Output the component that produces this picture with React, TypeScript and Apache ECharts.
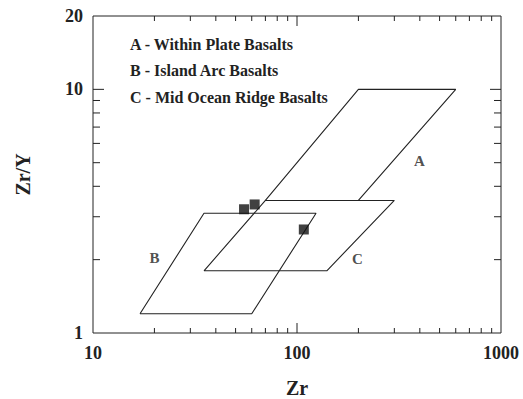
import React, { useEffect, useRef } from "react";
import * as echarts from "echarts";

// Axis ranges
const X_MIN = 10;
const X_MAX = 1000;
const Y_MIN = 1;
const Y_MAX = 20;

// Tick positions
const xMinorTicks = [20, 30, 40, 50, 60, 70, 80, 90, 200, 300, 400, 500, 600, 700, 800, 900];
const xMajorTicks = [100];
const yMinorTicks = [2, 3, 4, 5, 6, 7, 8, 9];
const yMajorTicks = [10];

// Discrimination fields (Zr, Zr/Y)
const fieldA = [[70, 3.5], [200, 10], [600, 10], [200, 3.5], [70, 3.5]];
const fieldB = [[17, 1.2], [35, 3.1], [124, 3.1], [60, 1.2], [17, 1.2]];
const fieldC = [[35, 1.8], [140, 1.8], [300, 3.5], [70, 3.5], [35, 1.8]];

// Field labels
const fieldLabels = [
  [398, 5.1, "A"],
  [20, 2.04, "B"],
  [198, 2.02, "C"],
];

// Samples
const samples = [[55, 3.22], [62, 3.37], [108, 2.66]];

// Legend texts
const legendLines = [
  "A - Within Plate Basalts",
  "B - Island Arc Basalts",
  "C - Mid Ocean Ridge Basalts",
];

const INK = "#222";
const FONT = "Liberation Serif";

export default function App() {
  const ref = useRef<HTMLDivElement>(null);

  useEffect(() => {
    if (!ref.current) return;
    const chart = echarts.init(ref.current, null, { renderer: "svg" });

    const X_MINOR_LEN = 5;
    const X_MAJOR_LEN = 10;
    const Y_MINOR_LEN = 7;
    const Y_MAJOR_LEN = 11;

    const xTickData = [
      ...xMinorTicks.map((v) => [v, Y_MIN, X_MINOR_LEN]),
      ...xMajorTicks.map((v) => [v, Y_MIN, X_MAJOR_LEN]),
    ];
    const yTickData = [
      ...yMinorTicks.map((v) => [X_MIN, v, Y_MINOR_LEN]),
      ...yMajorTicks.map((v) => [X_MIN, v, Y_MAJOR_LEN]),
    ];

    const lineStyle = { stroke: INK, lineWidth: 1 };

    const fieldSeries = (data: number[][]) => ({
      type: "line",
      data,
      symbol: "none",
      silent: true,
      lineStyle: { color: INK, width: 1.1 },
      z: 3,
    });

    chart.setOption({
      animation: false,
      backgroundColor: "#fff",
      textStyle: { fontFamily: FONT },
      grid: {
        left: 93,
        right: 22,
        top: 16,
        bottom: 66,
        containLabel: false,
        outerBoundsMode: "none",
        show: true,
        borderColor: INK,
        borderWidth: 1,
        backgroundColor: "transparent",
      },
      xAxis: {
        type: "log",
        logBase: 10,
        min: X_MIN,
        max: X_MAX,
        name: "Zr",
        nameLocation: "middle",
        nameGap: 45,
        nameTextStyle: { fontFamily: FONT, fontWeight: "bold", fontSize: 20, color: INK },
        axisLine: { show: false },
        axisTick: { show: false },
        splitLine: { show: false },
        minorTick: { show: false },
        axisLabel: {
          margin: 11,
          fontFamily: FONT,
          fontWeight: "bold",
          fontSize: 18,
          color: INK,
          formatter: (v: number) => String(Math.round(v)),
        },
      },
      yAxis: {
        type: "log",
        logBase: 10,
        min: Y_MIN,
        max: Y_MAX,
        name: "Zr/Y",
        nameLocation: "middle",
        nameGap: 60,
        nameRotate: 90,
        nameTextStyle: { fontFamily: FONT, fontWeight: "bold", fontSize: 20, color: INK },
        axisLine: { show: false },
        axisTick: { show: false },
        splitLine: { show: false },
        axisLabel: {
          margin: 10,
          fontFamily: FONT,
          fontWeight: "bold",
          fontSize: 18,
          color: INK,
          formatter: (v: number) => String(Math.round(v)),
        },
      },
      graphic: legendLines.map((t, i) => ({
        type: "text",
        left: 130,
        top: 36 + i * 26.7,
        style: {
          text: t,
          fontFamily: FONT,
          fontWeight: "bold",
          fontSize: 16,
          fill: INK,
        },
      })),
      series: [
        {
          type: "custom",
          coordinateSystem: "cartesian2d",
          data: xTickData,
          encode: { x: 0, y: 1 },
          silent: true,
          z: 5,
          renderItem: (params: any, api: any) => {
            const v = api.value(0);
            const len = api.value(2);
            const b = api.coord([v, Y_MIN]);
            const t = api.coord([v, Y_MAX]);
            return {
              type: "group",
              children: [
                { type: "line", shape: { x1: b[0], y1: b[1], x2: b[0], y2: b[1] - len }, style: lineStyle },
                { type: "line", shape: { x1: t[0], y1: t[1], x2: t[0], y2: t[1] + len }, style: lineStyle },
              ],
            };
          },
        },
        {
          type: "custom",
          coordinateSystem: "cartesian2d",
          data: yTickData,
          encode: { x: 0, y: 1 },
          silent: true,
          z: 5,
          renderItem: (params: any, api: any) => {
            const v = api.value(1);
            const len = api.value(2);
            const l = api.coord([X_MIN, v]);
            const r = api.coord([X_MAX, v]);
            return {
              type: "group",
              children: [
                { type: "line", shape: { x1: l[0], y1: l[1], x2: l[0] + len, y2: l[1] }, style: lineStyle },
                { type: "line", shape: { x1: r[0], y1: r[1], x2: r[0] - len, y2: r[1] }, style: lineStyle },
              ],
            };
          },
        },
        fieldSeries(fieldA),
        fieldSeries(fieldB),
        fieldSeries(fieldC),
        {
          type: "scatter",
          data: fieldLabels,
          symbolSize: 0,
          silent: true,
          label: {
            show: true,
            position: "inside",
            formatter: (p: any) => p.value[2],
            fontFamily: FONT,
            fontWeight: "bold",
            fontSize: 15,
            color: INK,
          },
          z: 4,
        },
        {
          type: "scatter",
          data: samples,
          symbol: "rect",
          symbolSize: 10,
          itemStyle: { color: "#111" },
          z: 6,
        },
      ],
    });

    return () => chart.dispose();
  }, []);

  return (
    <div
      ref={ref}
      style={{ position: "absolute", left: 0, top: 0, width: 523, height: 399, background: "#fff" }}
    />
  );
}
